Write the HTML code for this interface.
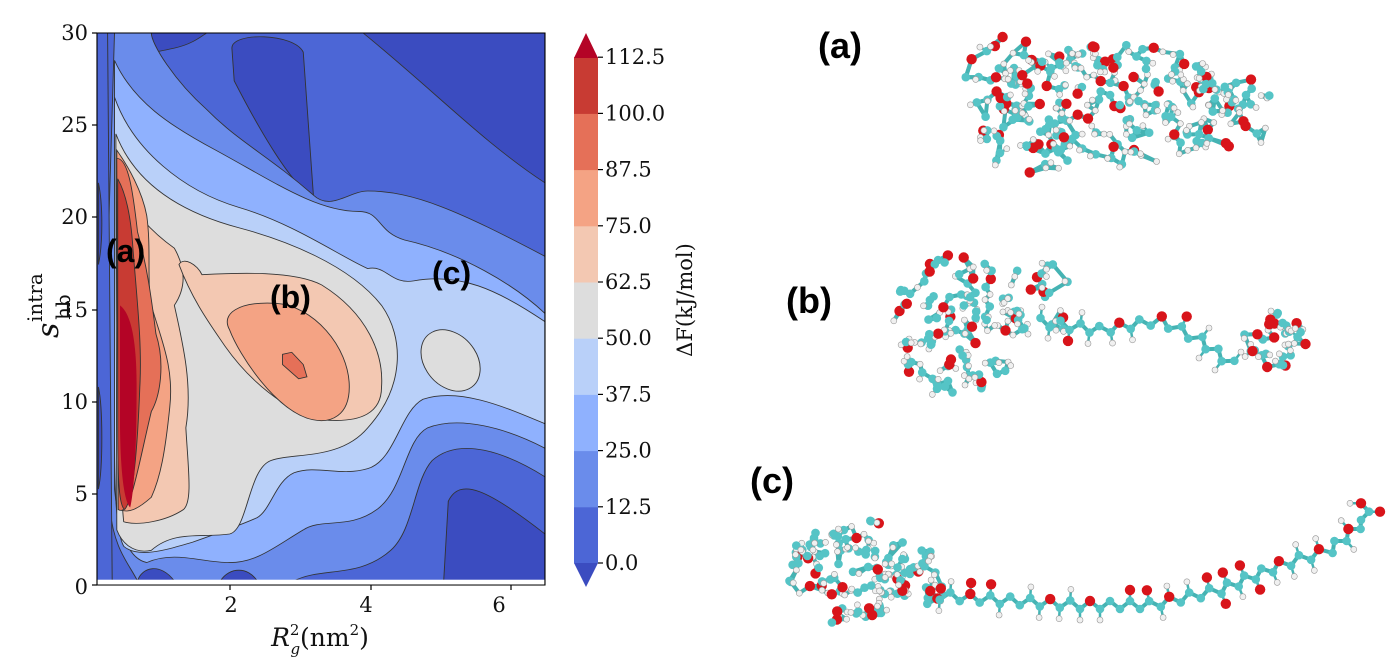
<!DOCTYPE html>
<html><head><meta charset="utf-8"><style>
html,body{margin:0;padding:0;background:#fff;}
svg{display:block;}
.t{font-family:"DejaVu Serif","Liberation Serif",serif;font-size:21px;fill:#111;}
.lab{font-family:"Liberation Sans",sans-serif;font-weight:bold;fill:#000;}
</style></head><body>
<svg id="s" width="1400" height="661" viewBox="0 0 1400 661" xmlns="http://www.w3.org/2000/svg">
<defs><clipPath id="pc"><rect x="212" y="33" width="973" height="1352"/></clipPath></defs>
<g transform="translate(97,33) scale(0.4604,0.4083) translate(-212,-33)">
<g clip-path="url(#pc)" stroke="#333" stroke-width="2">
<rect x="212" y="33" width="973" height="1352" fill="#4c66d6" stroke="none"/>
<path d="M790,33 L1185,33 L1185,400 C1050,300 950,180 790,33 Z" fill="#3b4cc0"/>
<path d="M505,70 C505,30 640,33 660,80 L682,430 C640,420 560,260 510,150 Z" fill="#3b4cc0"/>
<path d="M975,1180 C1000,1120 1060,1150 1185,1260 L1185,1375 L965,1375 Z" fill="#3b4cc0"/>
<path d="M320,33 C340,80 300,90 380,70 C420,60 440,40 450,33 Z" fill="#3b4cc0"/>
<path d="M250,33 L330,33 C330,60 380,150 450,220 C520,300 580,330 682,430 C720,470 760,420 800,420 C900,420 1000,470 1185,580 L1185,1120 C1100,1060 1000,1020 940,1080 C900,1130 900,1250 850,1300 C780,1370 700,1340 640,1375 L300,1375 C280,1330 250,1300 240,1200 L235,600 Z" fill="#6a8ceb"/>
<path d="M250,100 C290,200 370,260 470,320 C600,400 690,470 780,470 C830,470 820,520 880,540 C1000,570 1120,650 1185,720 L1185,1050 C1100,1000 1000,970 930,1000 C880,1030 880,1150 820,1200 C760,1250 700,1220 660,1250 C600,1290 560,1330 500,1330 C440,1330 380,1300 320,1330 C280,1320 260,1260 250,1150 Z" fill="#8fb1fe"/>
<path d="M250,190 C290,320 400,420 520,460 C640,500 740,580 800,610 C840,600 850,650 900,640 C1000,620 1080,660 1185,740 L1185,990 C1100,950 1000,900 920,930 C870,960 860,1080 800,1100 C740,1120 690,1090 640,1110 C600,1130 590,1200 560,1220 C520,1240 470,1260 420,1280 C360,1300 300,1320 270,1290 C250,1250 250,1100 250,1000 Z" fill="#b9d0f9"/>
<path d="M253,280 C300,420 420,480 520,510 C620,540 760,600 830,700 C880,780 880,900 800,1000 C740,1080 640,1060 590,1080 C540,1100 540,1250 500,1260 C440,1270 380,1250 330,1300 C290,1310 265,1280 255,1250 Z" fill="#dddddd"/>
<ellipse cx="980" cy="835" rx="58" ry="80" transform="rotate(-30 980 835)" fill="#dddddd"/>
<path d="M255,400 C290,470 330,520 380,560 C400,600 410,650 380,700 C400,800 420,900 405,1000 C410,1100 420,1180 400,1200 C360,1230 300,1240 270,1230 C258,1100 255,700 255,400 Z" fill="#f3c8b2"/>
<path d="M390,600 C400,580 430,600 440,625 C520,620 640,615 700,650 C800,720 835,820 830,900 C830,960 790,990 700,980 C620,960 540,880 490,800 C460,750 420,690 390,600 Z" fill="#f3c8b2"/>
<path d="M255,320 C280,360 310,420 320,480 C330,560 320,640 330,700 C350,780 380,850 370,950 C360,1060 350,1120 330,1170 C300,1200 280,1210 260,1200 Z" fill="#f4a384"/>
<path d="M500,760 C480,720 520,690 600,695 C680,700 760,800 760,900 C760,970 720,990 680,980 C600,960 520,820 500,760 Z" fill="#f4a384"/>
<path d="M255,340 C280,340 290,420 300,520 C320,600 330,680 340,770 C360,840 350,920 330,960 C300,1100 285,1220 258,1200 Z" fill="#e57058"/>
<path d="M615,820 L635,815 L660,845 L668,875 L650,880 L615,845 Z" fill="#e57058"/>
<path d="M257,390 C272,420 285,470 290,560 C300,700 310,800 305,900 C300,1050 290,1180 272,1200 C258,1190 257,1100 257,1000 Z" fill="#c83b33"/>
<path d="M262,700 C285,720 298,780 298,900 C298,1020 294,1150 284,1195 C270,1180 263,1100 262,1000 Z" fill="#b40426" stroke="none"/>
<path d="M212,33 L235,33 C240,300 240,900 245,1375 L212,1375 Z" fill="#4c66d6"/>
<path d="M215,400 C225,450 225,550 215,600 Z M215,900 C225,950 225,1100 215,1150 Z" fill="#3b4cc0"/>
<path d="M300,1375 C310,1340 350,1330 380,1375 Z M480,1375 C500,1340 540,1340 560,1375 Z" fill="#3b4cc0"/>
<rect x="212" y="1372" width="973" height="13" fill="#fff" stroke="none"/>
</g>
<rect x="212" y="33" width="973" height="1352" fill="none" stroke="#000" stroke-width="2.5"/>
</g>
<g id="cb"></g>
<g class="t" text-anchor="end">
<text x="88" y="40">30</text><text x="88" y="132">25</text><text x="88" y="224">20</text><text x="88" y="317">15</text><text x="88" y="409">10</text><text x="88" y="501">5</text><text x="88" y="594">0</text>
</g>
<g stroke="#000" stroke-width="1.2">
<line x1="92" y1="33" x2="97" y2="33"/><line x1="92" y1="125" x2="97" y2="125"/><line x1="92" y1="217" x2="97" y2="217"/><line x1="92" y1="310" x2="97" y2="310"/><line x1="92" y1="402" x2="97" y2="402"/><line x1="92" y1="494" x2="97" y2="494"/><line x1="92" y1="585" x2="97" y2="585"/>
<line x1="230" y1="585" x2="230" y2="590"/><line x1="371" y1="585" x2="371" y2="590"/><line x1="511" y1="585" x2="511" y2="590"/>
</g>
<g class="t" text-anchor="middle">
<text x="231" y="612">2</text><text x="366" y="612">4</text><text x="499" y="612">6</text>
<text x="320" y="646" font-size="25"><tspan font-style="italic">R</tspan><tspan font-size="15" dy="-11">2</tspan><tspan font-size="15" font-style="italic" dx="-9" dy="19">g</tspan><tspan dy="-8">(nm</tspan><tspan font-size="15" dy="-11">2</tspan><tspan dy="11">)</tspan></text>
</g>
<g class="t" transform="translate(58,338) rotate(-90)">
<text x="0" y="0" font-size="30" font-style="italic">s</text>
<text x="18" y="12" font-size="20">hb</text>
<text x="16" y="-16" font-size="20">intra</text>
</g>
<text class="t" font-size="22" transform="translate(692,300) rotate(-90)" text-anchor="middle">ΔF(kJ/mol)</text>
<text class="lab" font-size="32" x="106" y="262">(a)</text>
<text class="lab" font-size="32" x="270" y="308">(b)</text>
<text class="lab" font-size="32" x="432" y="284">(c)</text>
<text class="lab" font-size="36" x="818" y="58">(a)</text>
<text class="lab" font-size="36" x="786" y="313">(b)</text>
<text class="lab" font-size="36" x="750" y="493">(c)</text>
<g id="mol"></g>
</svg>
<script>
(function(){
var NS="http://www.w3.org/2000/svg";
function el(p,t,a){var e=document.createElementNS(NS,t);for(var k in a)e.setAttribute(k,a[k]);p.appendChild(e);return e;}
var cb=document.getElementById('cb');
var cols=["#4c66d6","#6a8ceb","#8fb1fe","#b9d0f9","#dddddd","#f3c8b2","#f4a384","#e57058","#c83b33"];
var y0=563,h=56.2;
for(var i=0;i<9;i++){el(cb,'rect',{x:574,y:(y0-(i+1)*h).toFixed(1),width:24,height:(h+0.5).toFixed(1),fill:cols[i]});}
el(cb,'polygon',{points:"574,58 598,58 586,33",fill:"#b40426"});
el(cb,'polygon',{points:"574,563 598,563 586,587",fill:"#3b4cc0"});
var labs=["0.0","12.5","25.0","37.5","50.0","62.5","75.0","87.5","100.0","112.5"];
for(var i=0;i<10;i++){var y=y0-i*h;el(cb,'line',{x1:598,y1:y,x2:603,y2:y,stroke:"#000","stroke-width":1.2});
var t=el(cb,'text',{x:605,y:y+7,"class":"t"});t.textContent=labs[i];}
var g=document.getElementById('mol');var bonds=el(g,'g',{stroke:"#45b3b3","stroke-width":4,"stroke-linecap":"round"});var atoms=el(g,'g',{});
var seed=7;function r(){seed=(seed*16807)%2147483647;return seed/2147483647;}
var pts=[];
function atom(x,y,kind){pts.push([x,y,kind]);}
function draw(){
 pts.forEach(function(p){var c=p[2]=='O'?'#d8141a':(p[2]=='H'?'#f0f0f0':'#55c4c6');var rr=p[2]=='O'?5.2:(p[2]=='H'?3:4.3);
 el(atoms,'circle',{cx:p[0].toFixed(1),cy:p[1].toFixed(1),r:rr,fill:c,stroke:p[2]=='H'?'#999':'none','stroke-width':0.6});});
}
function blob(cx,cy,rx,ry,n){var P=[];
 for(var i=0;i<n;i++){var a=r()*6.283,d=Math.sqrt(r());P.push([cx+Math.cos(a)*d*rx,cy+Math.sin(a)*d*ry]);}
 P.forEach(function(p,i){var ds=P.map(function(q,j){return [Math.hypot(p[0]-q[0],p[1]-q[1]),j];}).sort(function(a,b){return a[0]-b[0];});
  for(var k=1;k<3;k++){if(ds[k][0]<26){var q=P[ds[k][1]];el(bonds,'line',{x1:p[0].toFixed(1),y1:p[1].toFixed(1),x2:q[0].toFixed(1),y2:q[1].toFixed(1)});}}
  var v=r();var kind=v<0.17?'O':(v<0.45?'H':'C');atom(p[0],p[1],kind);
  if(kind=='C'&&r()<0.6){var hx=p[0]+(r()-0.5)*14,hy=p[1]+(r()-0.5)*14;el(bonds,'line',{x1:p[0].toFixed(1),y1:p[1].toFixed(1),x2:hx.toFixed(1),y2:hy.toFixed(1),'stroke-width':2.5});atom(hx,hy,'H');}
 });}
function chain(path){var prev=null,k=0;
 for(var s=0;s<path.length-1;s++){var a=path[s],b=path[s+1];var L=Math.hypot(b[0]-a[0],b[1]-a[1]);var n=Math.max(1,Math.round(L/10));
  var nx=-(b[1]-a[1])/L,ny=(b[0]-a[0])/L;
  for(var i=0;i<n;i++){var t=i/n;var sg=(k%2?1:-1);var x=a[0]+(b[0]-a[0])*t+nx*4*sg,y=a[1]+(b[1]-a[1])*t+ny*4*sg;
   if(prev)el(bonds,'line',{x1:prev[0].toFixed(1),y1:prev[1].toFixed(1),x2:x.toFixed(1),y2:y.toFixed(1)});
   var kind=(k%4==0&&r()<0.6)?'O':'C';atom(x,y,kind);
   if(r()<0.6){var hx=x+nx*11*sg,hy=y+ny*11*sg;
    el(bonds,'line',{x1:x.toFixed(1),y1:y.toFixed(1),x2:hx.toFixed(1),y2:hy.toFixed(1),'stroke-width':2.5});atom(hx,hy,r()<0.35?'O':'H');}
   prev=[x,y];k++;}}}
blob(1110,105,125,62,190);blob(1010,80,45,45,35);blob(1230,115,50,40,35);blob(1030,140,50,35,30);
blob(955,325,68,70,130);blob(1040,300,40,40,25);chain([[1040,322],[1100,330],[1160,320],[1200,340],[1240,370]]);blob(1275,340,32,30,40);
blob(850,570,62,55,120);blob(920,580,30,35,25);chain([[930,595],[1000,600],[1080,605],[1150,605],[1220,590],[1280,565],[1330,550],[1365,520],[1365,495]]);
draw();
})();
</script>
</body></html>
